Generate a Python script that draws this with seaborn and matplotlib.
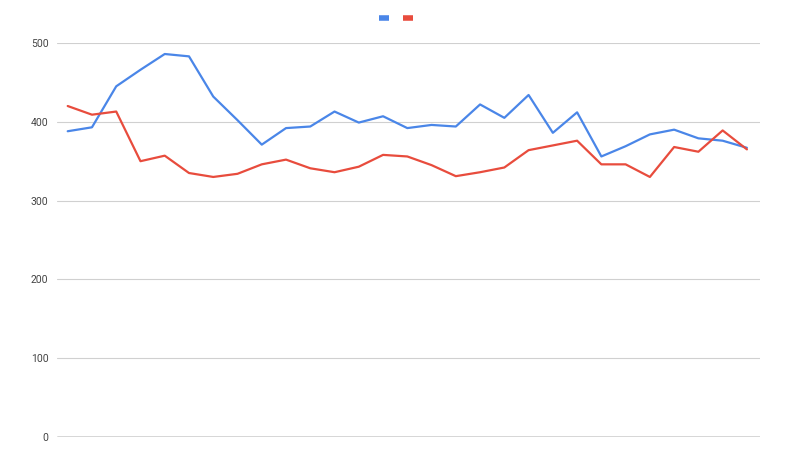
import numpy as np
import pandas as pd
import matplotlib
matplotlib.use("Agg")
import matplotlib.pyplot as plt
import seaborn as sns

# values (29 points per series)
blue_vals = [388, 393, 445, 466, 486, 483, 432, 402, 371, 392, 394, 413, 399, 407,
             392, 396, 394, 422, 405, 434, 386, 412, 356, 369, 384, 390, 379, 376, 367]
red_vals = [420, 409, 413, 350, 357, 335, 330, 334, 346, 352, 341, 336, 343, 358,
            356, 345, 331, 336, 342, 364, 370, 376, 346, 346, 330, 368, 362, 389, 365]
series_names = ["Series A", "Series B"]
y_ticks = [0, 100, 200, 300, 400, 500]

colors = ["#4a86e8", "#e84c3d"]

n = len(blue_vals)
df = pd.DataFrame({
    "x": list(range(n)) * 2,
    "value": blue_vals + red_vals,
    "series": [series_names[0]] * n + [series_names[1]] * n,
})

sns.set_theme(style="white")
plt.rcParams["font.family"] = ["Roboto", "DejaVu Sans"]

fig = plt.figure(figsize=(8, 4.62), dpi=100)
ax = fig.add_axes([0.071, 0.054, 0.879, 0.853])

sns.lineplot(data=df, x="x", y="value", hue="series", palette=colors,
             linewidth=1.6, ax=ax, legend=False)

ax.set_ylim(0, 500)
ax.set_xlim(-0.45, n - 1 + 0.54)
ax.set_yticks(y_ticks)
ax.set_yticklabels([str(t) for t in y_ticks], fontsize=7.5, color="#444444")
ax.set_xticks([])
ax.set_xlabel("")
ax.set_ylabel("")
ax.tick_params(axis="y", length=0, pad=6)
for t in y_ticks[1:]:
    ax.axhline(t, color="#d0d0d0", linewidth=0.8, zorder=0)
ax.axhline(0, color="#333333", linewidth=1.0, zorder=3)
for s in ax.spines.values():
    s.set_visible(False)

# legend with colour swatches only, no labels
handles = [plt.Line2D([0], [0], color=c, linewidth=4, solid_capstyle="butt")
           for c in colors]
fig.legend(handles, ["", ""], loc="center", bbox_to_anchor=(0.495, 0.96),
           ncol=2, frameon=False, handlelength=0.9, handletextpad=0.0,
           columnspacing=1.2, fontsize=8)

fig.savefig("out.png", dpi=100)
